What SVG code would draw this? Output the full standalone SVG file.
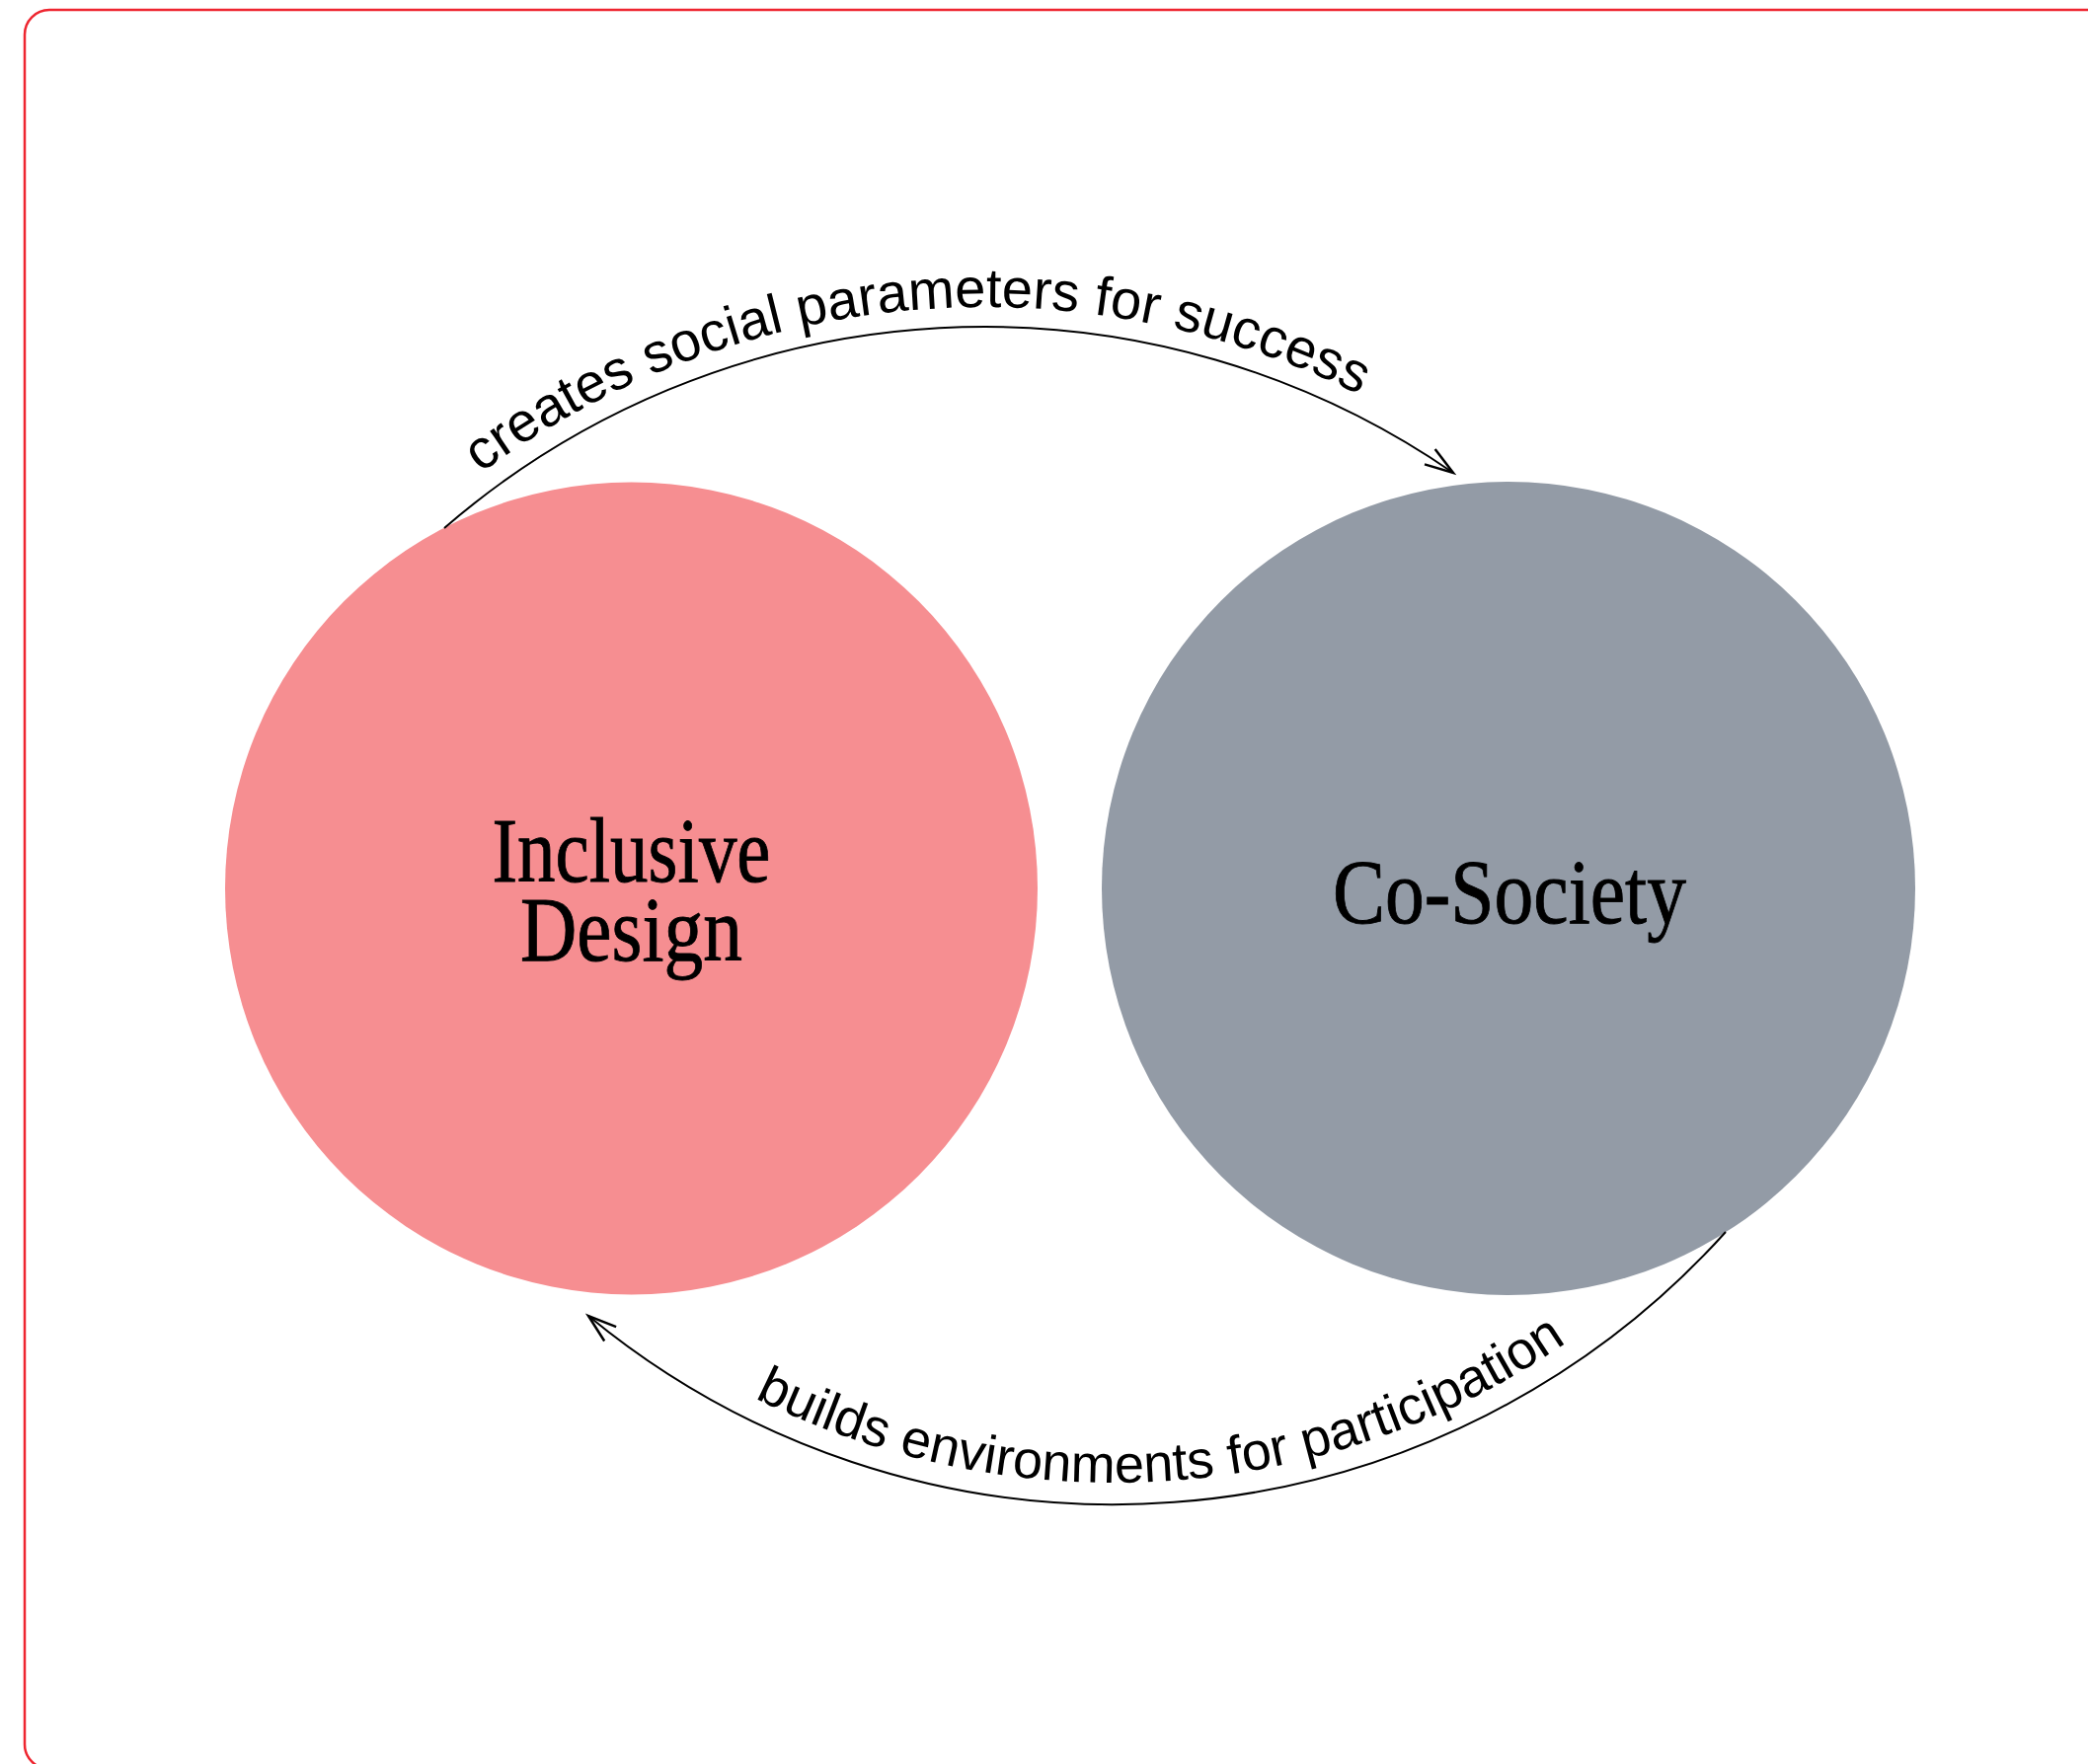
<svg xmlns="http://www.w3.org/2000/svg" width="2115" height="1787" viewBox="0 0 2115 1787">
  <style>
    .frame { fill: none; stroke: #EE2630; stroke-width: 2.5; }
    .conn { fill: none; stroke: #000; stroke-width: 2; }
    .label { font-family: "Liberation Serif", "Times New Roman", serif; font-size: 93px; fill: #000; stroke: #000; stroke-width: 0.9; text-anchor: middle; }
    .edge { font-family: "Liberation Sans", Arial, sans-serif; fill: #000; }
  </style>
  <defs>
    <marker id="arrow" markerUnits="userSpaceOnUse" markerWidth="40" markerHeight="30" refX="0" refY="0" viewBox="-26 -12 30 24" orient="auto">
      <path d="M-23,-7.5 L0,0 L-23,7.5" fill="none" stroke="#000" stroke-width="2"/>
    </marker>
    <path id="topTextPath" d="M220.6,806.6 A856,856 0 0,1 1697.3,674.8"/>
    <path id="bottomTextPath" d="M453.2,1142.4 A813,813 0 0,0 1858.1,1046.6"/>
  </defs>
  <rect width="2115" height="1787" fill="#fff"/>
  <rect class="frame" x="25" y="10" width="2120" height="1782" rx="25" ry="25"/>

  <g id="node-inclusive-design">
    <circle cx="639.5" cy="900" r="411.5" fill="#F68E91"/>
    <text class="label" x="639.5" y="893" textLength="282" lengthAdjust="spacingAndGlyphs">Inclusive</text>
    <text class="label" x="639.5" y="973" textLength="225" lengthAdjust="spacingAndGlyphs">Design</text>
  </g>

  <g id="node-co-society">
    <circle cx="1528" cy="900" r="412" fill="#939BA6"/>
    <text class="label" x="1529" y="935" textLength="358" lengthAdjust="spacingAndGlyphs">Co-Society</text>
  </g>

  <g id="connectors">
    <path class="conn" d="M450,535 A836,836 0 0,1 1472,479" marker-end="url(#arrow)"/>
    <path class="conn" d="M1748,1248 A835,835 0 0,1 596,1333" marker-end="url(#arrow)"/>
    <text class="edge" font-size="56"><textPath href="#topTextPath" startOffset="50%" text-anchor="middle">creates social parameters for success</textPath></text>
    <text class="edge" font-size="54"><textPath href="#bottomTextPath" startOffset="50%" text-anchor="middle">builds environments for participation</textPath></text>
  </g>
</svg>
